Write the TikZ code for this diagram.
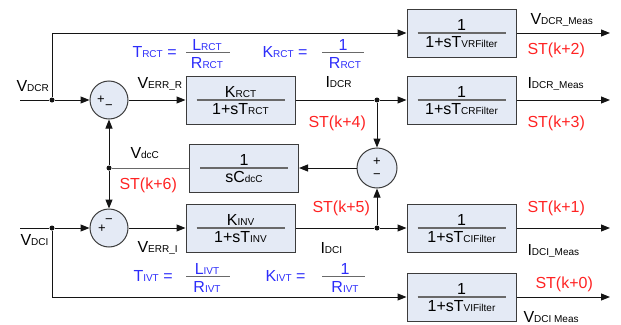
\documentclass[tikz,border=0pt]{standalone}
\usepackage{fontspec}
\setmainfont{Liberation Sans}
\usetikzlibrary{arrows.meta}

\definecolor{boxfill}{RGB}{228,234,245}
\definecolor{boxline}{RGB}{60,60,60}
\definecolor{bargray}{RGB}{105,105,105}
\definecolor{wire}{RGB}{20,20,20}
\definecolor{stred}{RGB}{255,35,35}
\definecolor{eqblue}{RGB}{45,45,250}

\newcommand{\sbs}[1]{\raisebox{-0.8pt}{\fontsize{10}{10}\selectfont #1}}

\begin{document}
\begin{tikzpicture}[x=1pt,y=-1pt,
  line width=1pt, draw=wire,
  blk/.style={draw=boxline,fill=boxfill,minimum width=109pt,minimum height=48pt,inner sep=0pt},
  sumj/.style={circle,draw=boxline,fill=boxfill,minimum size=38pt,inner sep=0pt},
  txt/.style={inner sep=0pt,font=\fontsize{16}{18}\selectfont,anchor=base west},
  ftxt/.style={inner sep=0pt,font=\fontsize{16}{18}\selectfont,anchor=base},
  st/.style={txt,text=stred},
  eq/.style={txt,text=eqblue},
  eqf/.style={ftxt,text=eqblue},
  sgn/.style={inner sep=0pt,font=\fontsize{13}{13}\selectfont},
  jdot/.style={circle,fill=wire,inner sep=0pt,minimum size=5pt},
  bar/.style={draw=bargray,line width=1.3pt},
  arr/.style={-{Triangle[length=9pt,width=7pt]}}
]
  \useasboundingbox (0,0) rectangle (621,324);

  % blocks
  \node[blk] (vrf) at (461.5,33) {};
  \node[ftxt] at ([yshift=2.5pt]vrf.center) {1};
  \draw[bar] ([xshift=-44pt]vrf.center) -- ([xshift=44pt]vrf.center);
  \node[ftxt] at ([yshift=-14pt]vrf.center) {1+sT\sbs{VRFilter}};

  \node[blk] (krct) at (240.5,100) {};
  \node[ftxt] at ([yshift=3pt]krct.center) {K\sbs{RCT}};
  \draw[bar] ([xshift=-44pt]krct.center) -- ([xshift=44pt]krct.center);
  \node[ftxt] at ([yshift=-14pt]krct.center) {1+sT\sbs{RCT}};

  \node[blk] (crf) at (461.5,100) {};
  \node[ftxt] at ([yshift=2.5pt]crf.center) {1};
  \draw[bar] ([xshift=-44pt]crf.center) -- ([xshift=44pt]crf.center);
  \node[ftxt] at ([yshift=-14pt]crf.center) {1+sT\sbs{CRFilter}};

  \node[blk] (cdc) at (244,168) {};
  \node[ftxt] at ([yshift=2.5pt]cdc.center) {1};
  \draw[bar] ([xshift=-44pt]cdc.center) -- ([xshift=44pt]cdc.center);
  \node[ftxt] at ([yshift=-14pt]cdc.center) {sC\sbs{dcC}};

  \node[blk] (kinv) at (240.5,228) {};
  \node[ftxt] at ([yshift=3pt]kinv.center) {K\sbs{INV}};
  \draw[bar] ([xshift=-44pt]kinv.center) -- ([xshift=44pt]kinv.center);
  \node[ftxt] at ([yshift=-14pt]kinv.center) {1+sT\sbs{INV}};

  \node[blk] (cif) at (461.5,228) {};
  \node[ftxt] at ([yshift=2.5pt]cif.center) {1};
  \draw[bar] ([xshift=-44pt]cif.center) -- ([xshift=44pt]cif.center);
  \node[ftxt] at ([yshift=-14pt]cif.center) {1+sT\sbs{CIFilter}};

  \node[blk] (vif) at (461.5,297) {};
  \node[ftxt] at ([yshift=2.5pt]vif.center) {1};
  \draw[bar] ([xshift=-44pt]vif.center) -- ([xshift=44pt]vif.center);
  \node[ftxt] at ([yshift=-14pt]vif.center) {1+sT\sbs{VIFilter}};

  % summing junctions
  \node[sumj] (sr) at (109,100) {};
  \node[sgn] at ([xshift=-8pt]sr.center) {+};
  \node[sgn] at ([yshift=-7pt]sr.center) {\char"2212};
  \node[sumj] (si) at (109,228) {};
  \node[sgn] at ([xshift=-7pt,yshift=-1pt]si.center) {+};
  \node[sgn] at ([yshift=7pt]si.center) {\char"2212};
  \node[sumj,minimum size=40pt] (sc) at (377,168) {};
  \node[sgn] at ([yshift=6pt]sc.center) {+};
  \node[sgn] at ([yshift=-8pt]sc.center) {\char"2212};

  % branch points
  \node[jdot] (jr) at (52,100) {};
  \node[jdot] (ji) at (52,228) {};
  \node[jdot] (jc) at (109,168) {};
  \node[jdot] (jir) at (377,100) {};
  \node[jdot] (jii) at (377,228) {};
  \coordinate (vdcr) at (20,100);
  \coordinate (vdci) at (20,228);
  \coordinate (o1) at (610,33);
  \coordinate (o2) at (610,100);
  \coordinate (o3) at (610,228);
  \coordinate (o4) at (610,297);

  % wires
  \draw (vdcr) -- (jr);
  \draw[arr] (jr) -- (sr);
  \draw[arr] (jr) |- (vrf);
  \draw[arr] (vrf) -- (o1);
  \draw[arr] (sr) -- (krct);
  \draw (krct) -- (jir);
  \draw[arr] (jir) -- (crf);
  \draw[arr] (crf) -- (o2);
  \draw[arr] (jir) -- (sc);
  \draw[arr] (sc) -- (cdc);
  \draw[bargray] (cdc) -- (jc);
  \draw[arr] (jc) -- (sr);
  \draw[arr] (jc) -- (si);
  \draw (vdci) -- (ji);
  \draw[arr] (ji) -- (si);
  \draw[arr] (ji) |- (vif);
  \draw[arr] (vif) -- (o4);
  \draw[arr] (si) -- (kinv);
  \draw (kinv) -- (jii);
  \draw[arr] (jii) -- (cif);
  \draw[arr] (cif) -- (o3);
  \draw[arr] (jii) -- (sc);

  % signal names
  \node[txt] (lvdcr) at (16,91) {V\sbs{DCR}};
  \node[txt] (lerrr) at (137,88) {V\sbs{ERR\_R}};
  \node[txt] (lidcr) at (325,87) {I\sbs{DCR}};
  \node[txt] (lvmr) at (530,24) {V\sbs{DCR\_Meas}};
  \node[txt] (limr) at (527,88) {I\sbs{DCR\_Meas}};
  \node[txt] (lvdcc) at (130,158) {V\sbs{dcC}};
  \node[txt] (lvdci) at (20,245) {V\sbs{DCI}};
  \node[txt] (lerri) at (137,252) {V\sbs{ERR\_I}};
  \node[txt] (lidci) at (320,253) {I\sbs{DCI}};
  \node[txt] (limi) at (527,255) {I\sbs{DCI\_Meas}};
  \node[txt] (lvmi) at (523,322) {V\sbs{DCI Meas}};

  % sample steps
  \node[st] (st2) at (527,54) {ST(k+2)};
  \node[st] (st3) at (527,127) {ST(k+3)};
  \node[st] (st4) at (308,127) {ST(k+4)};
  \node[st] (st6) at (119,189) {ST(k+6)};
  \node[st] (st5) at (312,212) {ST(k+5)};
  \node[st] (st1) at (527,212) {ST(k+1)};
  \node[st] (st0) at (535,288) {ST(k+0)};

  % parameters
  \node[eq] (trct) at (132,57) {T\sbs{RCT} =};
  \node[eqf] (lrct) at (207,50) {L\sbs{RCT}};
  \draw[bar] (186,52.5) -- (230,52.5);
  \node[eqf] (rrct) at (207,68) {R\sbs{RCT}};
  \node[eq] (krcte) at (262,57) {K\sbs{RCT} =};
  \node[eqf] (onerct) at (343,50) {1};
  \draw[bar] (322,52.5) -- (364,52.5);
  \node[eqf] (rrct2) at (345,68) {R\sbs{RCT}};

  \node[eq] (tivt) at (133,281) {T\sbs{IVT} =};
  \node[eqf] (livt) at (207,274) {L\sbs{IVT}};
  \draw[bar] (186,276.5) -- (230,276.5);
  \node[eqf] (rivt) at (207,292) {R\sbs{IVT}};
  \node[eq] (kivte) at (265,281) {K\sbs{IVT} =};
  \node[eqf] (oneivt) at (345,274) {1};
  \draw[bar] (322,276.5) -- (365,276.5);
  \node[eqf] (rivt2) at (345,292) {R\sbs{IVT}};
\end{tikzpicture}
\end{document}
